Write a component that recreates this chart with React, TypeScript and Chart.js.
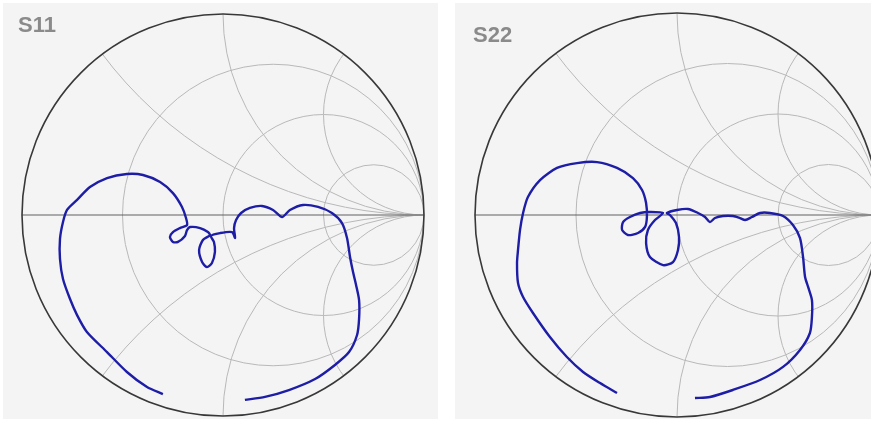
import React, { useEffect, useRef } from 'react';
import { Chart, registerables } from 'chart.js';

Chart.register(...registerables);

const s11Re = [-0.299, -0.378, -0.478, -0.577, -0.677, -0.726, -0.761, -0.796, -0.811, -0.811, -0.796, -0.776, -0.726, -0.662, -0.577, -0.478, -0.398, -0.313, -0.249, -0.204, -0.184, -0.179, -0.214, -0.249, -0.264, -0.249, -0.224, -0.189, -0.179, -0.164, -0.114, -0.075, -0.065, -0.100, -0.119, -0.104, -0.080, -0.055, -0.040, -0.045, -0.060, -0.015, 0.045, 0.060, 0.055, 0.065, 0.090, 0.134, 0.194, 0.249, 0.294, 0.333, 0.398, 0.473, 0.542, 0.592, 0.617, 0.632, 0.647, 0.662, 0.677, 0.677, 0.667, 0.627, 0.557, 0.458, 0.328, 0.209, 0.109];
const s11Im = [-0.891, -0.856, -0.781, -0.682, -0.582, -0.498, -0.418, -0.318, -0.219, -0.119, -0.035, 0.025, 0.075, 0.139, 0.184, 0.204, 0.199, 0.164, 0.109, 0.040, -0.015, -0.050, -0.065, -0.085, -0.109, -0.134, -0.134, -0.104, -0.075, -0.060, -0.065, -0.085, -0.100, -0.124, -0.174, -0.234, -0.259, -0.239, -0.184, -0.134, -0.104, -0.090, -0.085, -0.114, -0.065, -0.025, 0.010, 0.035, 0.045, 0.025, -0.010, 0.025, 0.050, 0.040, 0.010, -0.040, -0.114, -0.209, -0.284, -0.348, -0.423, -0.517, -0.597, -0.682, -0.746, -0.816, -0.871, -0.905, -0.920];

const s22Re = [-0.297, -0.381, -0.465, -0.545, -0.629, -0.713, -0.762, -0.787, -0.792, -0.787, -0.777, -0.762, -0.738, -0.678, -0.594, -0.495, -0.396, -0.297, -0.218, -0.173, -0.153, -0.149, -0.158, -0.193, -0.243, -0.272, -0.267, -0.233, -0.183, -0.134, -0.069, -0.109, -0.144, -0.153, -0.134, -0.069, -0.020, 0.005, 0.010, -0.005, -0.035, -0.050, 0.000, 0.054, 0.104, 0.139, 0.163, 0.188, 0.228, 0.277, 0.312, 0.337, 0.371, 0.411, 0.460, 0.525, 0.574, 0.609, 0.624, 0.634, 0.649, 0.668, 0.668, 0.658, 0.609, 0.525, 0.411, 0.277, 0.163, 0.089];
const s22Im = [-0.881, -0.832, -0.777, -0.703, -0.604, -0.485, -0.406, -0.337, -0.238, -0.173, -0.074, 0.010, 0.089, 0.173, 0.233, 0.257, 0.262, 0.233, 0.183, 0.124, 0.059, -0.010, -0.059, -0.089, -0.099, -0.074, -0.035, -0.010, 0.010, 0.015, 0.010, -0.025, -0.074, -0.139, -0.208, -0.248, -0.233, -0.173, -0.109, -0.040, 0.000, 0.010, 0.025, 0.030, 0.010, -0.010, -0.035, -0.015, -0.005, -0.005, -0.015, -0.025, -0.010, 0.010, 0.010, -0.005, -0.050, -0.114, -0.208, -0.307, -0.356, -0.421, -0.505, -0.584, -0.668, -0.752, -0.817, -0.866, -0.901, -0.906];

// Smith chart grid values
const resistanceCircles = [1 / 3, 1, 3];
const reactanceArcs = [0.5, 1, 2];
const chartTitles = ['S11', 'S22'];

const smithGrid = {
  id: 'smithGrid',
  beforeDatasetsDraw(chart: any) {
    const { ctx, scales } = chart;
    const xs = scales.x;
    const ys = scales.y;
    const px = (v: number) => xs.getPixelForValue(v);
    const py = (v: number) => ys.getPixelForValue(v);
    const u = px(1) - px(0);
    const cx = px(0);
    const cy = py(0);
    ctx.save();
    ctx.beginPath();
    ctx.arc(cx, cy, u, 0, Math.PI * 2);
    ctx.clip();
    ctx.strokeStyle = '#b8b8b8';
    ctx.lineWidth = 1;
    for (const r of resistanceCircles) {
      ctx.beginPath();
      ctx.arc(px(r / (1 + r)), cy, u / (1 + r), 0, Math.PI * 2);
      ctx.stroke();
    }
    for (const xv of reactanceArcs) {
      for (const s of [1, -1]) {
        ctx.beginPath();
        ctx.arc(px(1), py(s / xv), u / xv, 0, Math.PI * 2);
        ctx.stroke();
      }
    }
    ctx.restore();
    ctx.save();
    ctx.strokeStyle = '#606060';
    ctx.lineWidth = 1.2;
    ctx.beginPath();
    ctx.moveTo(px(-1), cy);
    ctx.lineTo(px(1), cy);
    ctx.stroke();
    ctx.strokeStyle = '#383838';
    ctx.lineWidth = 1.6;
    ctx.beginPath();
    ctx.arc(cx, cy, u, 0, Math.PI * 2);
    ctx.stroke();
    ctx.restore();
  },
  afterDraw(chart: any, _args: any, opts: any) {
    const { ctx } = chart;
    ctx.save();
    ctx.font = 'bold 22px "Liberation Sans", Arial, sans-serif';
    ctx.fillStyle = '#8a8a8a';
    ctx.textBaseline = 'alphabetic';
    ctx.fillText(opts.title, opts.tx, opts.ty);
    ctx.restore();
  },
};

type SmithProps = {
  left: number;
  width: number;
  top: number;
  height: number;
  cx: number;
  cy: number;
  R: number;
  re: number[];
  im: number[];
  title: string;
  tx: number;
  ty: number;
};

function SmithPanel(p: SmithProps) {
  const ref = useRef<HTMLCanvasElement>(null);
  useEffect(() => {
    const canvas = ref.current!;
    const points = p.re.map((v, i) => ({ x: v, y: p.im[i] }));
    const chart = new Chart(canvas, {
      type: 'scatter',
      data: {
        datasets: [
          {
            data: points,
            showLine: true,
            borderColor: '#1d1da6',
            backgroundColor: '#1d1da6',
            borderWidth: 2.4,
            pointRadius: 0,
            tension: 0.25,
          },
        ],
      },
      options: {
        animation: false,
        responsive: false,
        maintainAspectRatio: false,
        layout: { padding: 0 },
        scales: {
          x: {
            type: 'linear',
            display: false,
            min: -p.cx / p.R,
            max: (p.width - p.cx) / p.R,
          },
          y: {
            type: 'linear',
            display: false,
            min: -(p.height - p.cy) / p.R,
            max: p.cy / p.R,
          },
        },
        plugins: {
          legend: { display: false },
          tooltip: { enabled: false },
          smithGrid: { title: p.title, tx: p.tx, ty: p.ty },
        } as any,
      },
      plugins: [smithGrid],
    });
    return () => chart.destroy();
  }, []);
  return (
    <div
      style={{
        position: 'absolute',
        left: p.left,
        top: p.top,
        width: p.width,
        height: p.height,
        background: '#f4f4f4',
      }}
    >
      <canvas ref={ref} width={p.width} height={p.height} style={{ display: 'block' }} />
    </div>
  );
}

export default function App() {
  return (
    <div
      style={{
        position: 'fixed',
        left: 0,
        top: 0,
        width: 871,
        height: 421,
        background: '#ffffff',
        overflow: 'hidden',
      }}
    >
      <SmithPanel
        left={3}
        top={3}
        width={435}
        height={416}
        cx={220}
        cy={212}
        R={201}
        re={s11Re}
        im={s11Im}
        title={chartTitles[0]}
        tx={15}
        ty={29}
      />
      <SmithPanel
        left={455}
        top={3}
        width={416}
        height={416}
        cx={222}
        cy={212}
        R={202}
        re={s22Re}
        im={s22Im}
        title={chartTitles[1]}
        tx={18}
        ty={39}
      />
    </div>
  );
}
